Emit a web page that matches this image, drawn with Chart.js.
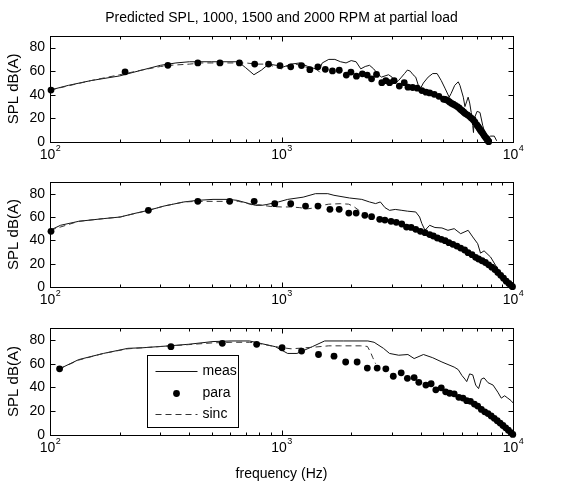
<!DOCTYPE html>
<html>
<head>
<meta charset="utf-8">
<script src="https://cdn.jsdelivr.net/npm/chart.js@4.4.1/dist/chart.umd.min.js"></script>
<style>
  html, body { margin: 0; padding: 0; background: #fff; }
  #wrap { position: relative; width: 571px; height: 486px; }
  #wrap canvas { position: absolute; left: 0; }
</style>
</head>
<body>
<div id="wrap">
  <canvas id="c1" width="571" height="165" style="top:0px"></canvas>
  <canvas id="c2" width="571" height="145" style="top:165px"></canvas>
  <canvas id="c3" width="571" height="176" style="top:310px"></canvas>
</div>
<script>
// ---- text ----
const titleText = 'Predicted SPL, 1000, 1500 and 2000 RPM at partial load';
const yLabel = 'SPL dB(A)';
const xLabel = 'frequency (Hz)';
const seriesNames = ['meas', 'para', 'sinc'];

// ---- axis ticks ----
const decadeTicks = [100, 1000, 10000];
const decadeExponents = ['2', '3', '4'];
const yTicks = [0, 20, 40, 60, 80];

// ---- 1000 RPM ----
const measF1 = [100,120,150,200,250,300,350,400,500,650,700,760,820,880,950,1000,1100,1200,1300,1400,1470,1500,1600,1700,1800,1900,2000,2100,2200,2300,2400,2500,2600,2700,2800,2900,3000,3100,3200,3300,3400,3500,3600,3700,3800,3900,4000,4100,4300,4500,4700,4900,5100,5300,5400,5600,5800,5900,6100,6200,6300,6400,6500,6600,6700,6750,6800,7000,7200,7400,7600,7800,8000,8300,8500];
const measV1 = [44,48,52,56,61,65,67,68,68,68,63,57,61,66,65,63,66,67,64,62,63,67,70,70,68,67,69,68,62,64,65,62,58,55,56,57,55,50,52,55,58,61,60,57,55,48,46,50,55,58,58,52,45,38,41,48,51,48,38,30,34,38,33,25,14,8,20,26,25,14,6,3,5,5,1];
const paraF1 = [101,211,323,435,542,658,766,879,985,1096,1220,1326,1436,1546,1660,1776,1905,1995,2107,2235,2346,2449,2573,2712,2822,2930,3066,3228,3391,3519,3684,3858,4040,4209,4366,4570,4786,5012,5100,5224,5320,5420,5520,5626,5740,5850,5940,6034,6130,6222,6350,6480,6600,6730,6850,6980,7070,7150,7230,7300,7380,7450,7520,7600,7680,7750,7800,7850];
const paraV1 = [44,59.5,65,67,67,67,66,66,64.8,63.7,64.8,61.3,63.7,61.6,60.2,60.8,56.7,59.3,55.8,57.8,56.7,53.5,57.3,50.3,52,50.3,52,47.4,50.3,46.5,46.2,45.6,43.6,42.2,41.6,40.4,38.7,36.3,36,35.2,34,32.8,32,31.1,30,28.8,27.5,26.5,25.2,24.1,23,21.8,20.3,18.9,16.8,14.5,13,11.5,10,9,7.8,6.5,5.2,4,3,2,1,0.3];
const sincF1 = [100,150,200,250,300,330,400,450,500,700,780,850,900,950,1000,1050,1100,1150,1200,1300,1400,1450,1500];
const sincV1 = [44,52,57,61,64,65,66,67,67,67,66,66,65,63,62,64,65,66,65,63,62,60,57];

// ---- 1500 RPM ----
const measF2 = [100,111,133,170,201,230,266,311,379,435,506,588,643,728,773,820,858,970,1063,1240,1402,1585,1685,1965,2222,2399,2550,2673,2800,2929,3100,3311,3500,3802,3950,4040,4169,4365,4600,4932,5236,5572,5942,6400,6700,7040,7240,7500,8000,8500,9100,9500,9750,9950];
const measV2 = [48.6,52.9,56.3,58.6,60,62.9,65.7,69.4,72.9,74.3,75.1,75.1,74.3,71.4,70,70,70.6,72.9,75.1,77,80,80,78.6,76.3,75.1,72.9,71.5,72.9,68,65.7,66.5,65.7,65,64.3,60,54.3,48.6,52.9,51,50.6,48.6,50,45.7,48.6,42.9,37.1,29,31,25.7,17,8.6,4,2,0.5];
const paraF2 = [101,266,435,597,762,935,1096,1270,1437,1619,1775,1953,2101,2291,2450,2656,2796,2972,3131,3308,3467,3631,3802,3981,4169,4365,4528,4710,4900,5091,5286,5500,5722,5942,6180,6395,6650,6890,7100,7350,7600,7850,8100,8350,8600,8850,9100,9350,9600,9800,9950];
const paraV2 = [47.7,65.7,73.4,73.4,73.4,71.4,71.4,69.4,69.4,66.6,66.6,63.4,63.4,61.4,60.3,58,57.4,56.3,55.4,54,51.4,51.1,49.4,47.7,46.6,44.9,43.7,42,40.9,39.7,38,36.6,35.1,33.4,31.7,29.4,27.7,25.4,24,22.5,21,19,17,15,12.5,10,7.5,5,3,1.5,0.3];
const sincF2 = [100,133,170,201,266,311,379,435,506,588,650,700,760,800,900,1000,1100,1200,1300,1400,1500,1600,1800,1950,2050,2150,2250];
const sincV2 = [48.6,56.3,58.6,60,65.7,69.4,72.9,73.4,73.4,73.4,73.5,72,70,70.5,69,68.6,68.6,68,67,68,70,71,71.4,71,69,66,63];

// ---- 2000 RPM ----
const measF3 = [110,133,170,217,252,333,396,506,606,727,771,940,1063,1166,1359,1536,1848,2361,2512,2757,2929,3208,3516,3741,4104,4500,4932,5572,5800,6020,6200,6310,6400,6495,6700,6900,7100,7300,7500,7800,8200,8600,8900,9200,9500,9800,10000];
const measV3 = [55.7,63.4,68.6,72.9,73.4,75.1,76.3,78.6,79.1,79.1,78,74.3,68.6,68.6,74.3,79.1,79.1,79.1,78,72.9,68.6,67.1,67.7,64.3,67.7,65,61.4,57.1,55,50,47,44.9,48,51.4,50.6,42,39,47,48,44,42,36,31,33,31,29,27];
const paraF3 = [110,333,555,781,1006,1221,1445,1686,1893,2122,2348,2590,2823,3040,3289,3498,3741,3919,4204,4430,4641,4900,5117,5325,5572,5835,6080,6310,6550,6810,7040,7300,7550,7800,8050,8300,8550,8800,9050,9300,9550,9800,9980];
const paraV3 = [55.7,74.3,77.1,76.3,73.4,70.6,67.7,66.3,61.4,61.4,56.3,56.3,55.7,49.4,52.3,47.7,48.3,44.3,42,43.1,38,39.7,36.3,35.1,34.6,31.7,31.1,28.9,28.3,26,24.3,21.5,19.5,18,16,14,12,10,8,6,4,2,0.5];
const sincF3 = [110,133,170,217,252,333,396,506,606,727,800,900,1000,1100,1200,1400,1600,1800,2000,2200,2350,2420,2480,2550];
const sincV3 = [55.7,63,68.6,72.5,73.4,75,76,77.5,78,78,77,75,73.5,72.5,73,74,75,75,75,75,74.5,70,65,60];

const FONT = "'Liberation Sans', Arial, Helvetica, sans-serif";

function pts(fs, vs) { return fs.map((f, i) => ({ x: f, y: vs[i] })); }

// minor log ticks 2..9 in each decade
const minorTicks = [];
[100, 1000].forEach(d => { for (let k = 2; k <= 9; k++) minorTicks.push(d * k); });

// axes box, inward tick marks, decade labels and the optional legend
const boxPlugin = {
  id: 'matBox',
  afterDatasetsDraw(chart) {
    const { ctx, chartArea: a, scales } = chart;
    const xs = scales.x, ys = scales.y;
    const L = Math.round(a.left) + 0.5, R = Math.round(a.right) + 0.5;
    const T = Math.round(a.top) + 0.5, B = Math.round(a.bottom) + 0.5;
    ctx.save();
    ctx.strokeStyle = '#000';
    ctx.lineWidth = 1;
    ctx.setLineDash([]);
    ctx.strokeRect(L, T, R - L, B - T);
    ctx.beginPath();
    const xTick = (v, len) => {
      const px = Math.round(xs.getPixelForValue(v)) + 0.5;
      ctx.moveTo(px, B); ctx.lineTo(px, B - len);
      ctx.moveTo(px, T); ctx.lineTo(px, T + len);
    };
    decadeTicks.forEach(v => xTick(v, 5));
    minorTicks.forEach(v => xTick(v, 3));
    yTicks.forEach(v => {
      const py = Math.round(ys.getPixelForValue(v)) + 0.5;
      ctx.moveTo(L, py); ctx.lineTo(L + 5, py);
      ctx.moveTo(R, py); ctx.lineTo(R - 5, py);
    });
    ctx.stroke();

    // decade labels 10^n
    ctx.fillStyle = '#000';
    ctx.textBaseline = 'middle';
    decadeTicks.forEach((v, i) => {
      const px = xs.getPixelForValue(v);
      ctx.font = '14px ' + FONT;
      const wBase = ctx.measureText('10').width;
      ctx.font = '9px ' + FONT;
      const wExp = ctx.measureText(decadeExponents[i]).width;
      const x0 = px - (wBase + wExp) / 2;
      const yb = a.bottom + 13;
      ctx.font = '14px ' + FONT;
      ctx.textAlign = 'left';
      ctx.fillText('10', x0, yb);
      ctx.font = '9px ' + FONT;
      ctx.fillText(decadeExponents[i], x0 + wBase + 0.5, yb - 6);
    });
    ctx.restore();
  },
  afterDraw(chart, args, opts) {
    if (!opts.legend) return;
    const { ctx, chartArea: a } = chart;
    const ds = chart.data.datasets;
    const bx = Math.round(a.left + 97) + 0.5, by = Math.round(a.top + 27) + 0.5;
    const bw = 91, bh = 72;
    ctx.save();
    ctx.fillStyle = '#fff';
    ctx.fillRect(bx, by, bw, bh);
    ctx.strokeStyle = '#000';
    ctx.lineWidth = 1;
    ctx.strokeRect(bx, by, bw, bh);
    const rows = [15, 37, 58];
    ctx.font = '14px ' + FONT;
    ctx.textBaseline = 'middle';
    ctx.textAlign = 'left';
    seriesNames.forEach((name, i) => {
      const d = ds.find(s => s.label === name);
      const y = Math.round(by + rows[i]) + 0.5;
      const x1 = bx + 8, x2 = bx + 50;
      if (d.showLine === false) {
        ctx.fillStyle = d.pointBackgroundColor;
        ctx.beginPath();
        ctx.arc((x1 + x2) / 2, y, d.pointRadius, 0, Math.PI * 2);
        ctx.fill();
      } else {
        ctx.strokeStyle = d.borderColor;
        ctx.lineWidth = d.borderWidth;
        ctx.setLineDash(d.borderDash || []);
        ctx.beginPath();
        ctx.moveTo(x1, y); ctx.lineTo(x2, y);
        ctx.stroke();
        ctx.setLineDash([]);
      }
      ctx.fillStyle = '#000';
      ctx.fillText(name, bx + 55, y);
    });
    ctx.restore();
  }
};

function makeChart(id, cfg) {
  const datasets = [
    { label: seriesNames[0], data: pts(cfg.measF, cfg.measV), borderColor: '#111', borderWidth: 1,
      pointRadius: 0, fill: false, tension: 0, clip: false, order: 3 },
    { label: seriesNames[2], data: pts(cfg.sincF, cfg.sincV), borderColor: '#333', borderWidth: 1,
      borderDash: [6, 4], pointRadius: 0, fill: false, tension: 0, clip: false, order: 2 },
    { label: seriesNames[1], data: pts(cfg.paraF, cfg.paraV), showLine: false, pointRadius: 3.4,
      pointBackgroundColor: '#000', pointBorderColor: '#000', pointBorderWidth: 0, clip: false, order: 1 }
  ];
  return new Chart(document.getElementById(id), {
    type: 'line',
    data: { datasets },
    plugins: [boxPlugin],
    options: {
      responsive: false,
      animation: false,
      events: [],
      layout: { padding: { left: 0, right: 58, top: cfg.padTop, bottom: cfg.padBottom } },
      plugins: {
        legend: { display: false },
        tooltip: { enabled: false },
        title: {
          display: !!cfg.title, text: cfg.title || '', color: '#000', fullSize: false,
          font: { family: FONT, size: 14, weight: 'normal' }, padding: { top: 10, bottom: 9 }
        },
        matBox: { legend: !!cfg.legend }
      },
      scales: {
        x: {
          type: 'logarithmic', min: 100, max: 10000,
          afterFit(s) { s.height = cfg.xHeight; },
          grid: { display: false }, border: { display: false },
          ticks: { display: false },
          title: {
            display: !!cfg.xTitle, text: xLabel, color: '#000',
            font: { family: FONT, size: 14 }, padding: { top: 0, bottom: 2 }
          }
        },
        y: {
          type: 'linear', min: 0, max: 90,
          afterBuildTicks(s) { s.ticks = yTicks.map(v => ({ value: v })); },
          afterFit(s) { s.width = 50; },
          grid: { display: false, drawTicks: false }, border: { display: false },
          ticks: { color: '#000', font: { family: FONT, size: 14 }, padding: 5 },
          title: {
            display: true, text: yLabel, color: '#000',
            font: { family: FONT, size: 15 }, padding: { top: 5, bottom: 0 }
          }
        }
      }
    }
  });
}

makeChart('c1', { measF: measF1, measV: measV1, paraF: paraF1, paraV: paraV1, sincF: sincF1, sincV: sincV1,
  title: titleText, padTop: 0, padBottom: 0, xHeight: 23 });
makeChart('c2', { measF: measF2, measV: measV2, paraF: paraF2, paraV: paraV2, sincF: sincF2, sincV: sincV2,
  padTop: 17, padBottom: 0, xHeight: 23 });
makeChart('c3', { measF: measF3, measV: measV3, paraF: paraF3, paraV: paraV3, sincF: sincF3, sincV: sincV3,
  padTop: 18, padBottom: 1, xHeight: 50, xTitle: true, legend: true });
</script>
</body>
</html>
